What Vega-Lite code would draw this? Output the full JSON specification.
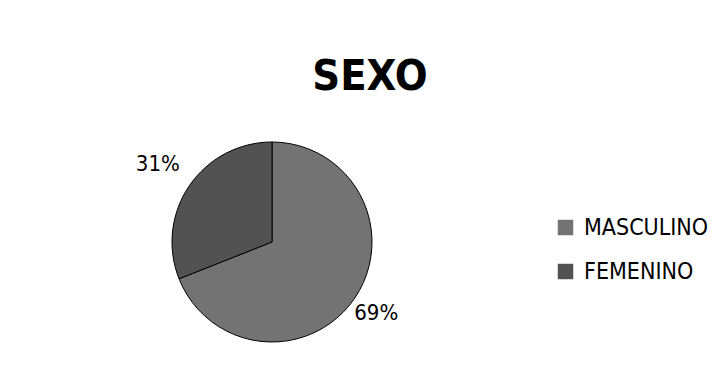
{
  "$schema": "https://vega.github.io/schema/vega-lite/v6.json",
  "autosize": {"type": "none"},
  "width": 200,
  "height": 200,
  "padding": {"left": 172, "top": 142, "right": 353, "bottom": 25},
  "background": "white",
  "title": {
    "text": "SEXO",
    "font": "DejaVu Sans Condensed, Liberation Sans, sans-serif",
    "fontSize": 43,
    "fontWeight": "bold",
    "color": "black",
    "anchor": "middle",
    "dx": 98,
    "offset": 41
  },
  "data": {
    "values": [
      {"sexo": "MASCULINO", "pct": 69, "label": "69%"},
      {"sexo": "FEMENINO", "pct": 31, "label": "31%"}
    ]
  },
  "encoding": {
    "theta": {"field": "pct", "type": "quantitative", "stack": true},
    "order": {"field": "pct", "type": "quantitative", "sort": "descending"}
  },
  "layer": [
    {
      "mark": {"type": "arc", "outerRadius": 100, "stroke": "black", "strokeWidth": 1},
      "encoding": {
        "color": {
          "field": "sexo",
          "type": "nominal",
          "sort": ["MASCULINO", "FEMENINO"],
          "scale": {"domain": ["MASCULINO", "FEMENINO"], "range": ["#737373", "#525252"]},
          "legend": {
            "title": null,
            "orient": "none",
            "legendX": 382,
            "legendY": 74,
            "symbolType": "square",
            "symbolSize": 240,
            "symbolStrokeWidth": 0,
            "labelFont": "DejaVu Sans Condensed, Liberation Sans, sans-serif",
            "labelFontSize": 23,
            "labelColor": "black",
            "rowPadding": 20,
            "labelOffset": 7
          }
        }
      }
    },
    {
      "mark": {"type": "text", "font": "DejaVu Sans Condensed, Liberation Sans, sans-serif", "fontSize": 22, "color": "black"},
      "encoding": {
        "text": {"field": "label", "type": "nominal"},
        "radius": {"field": "pct", "type": "quantitative", "scale": {"type": "linear", "domain": [31, 69], "range": [138, 126], "zero": false}}
      }
    }
  ],
  "config": {"view": {"stroke": null}}
}
